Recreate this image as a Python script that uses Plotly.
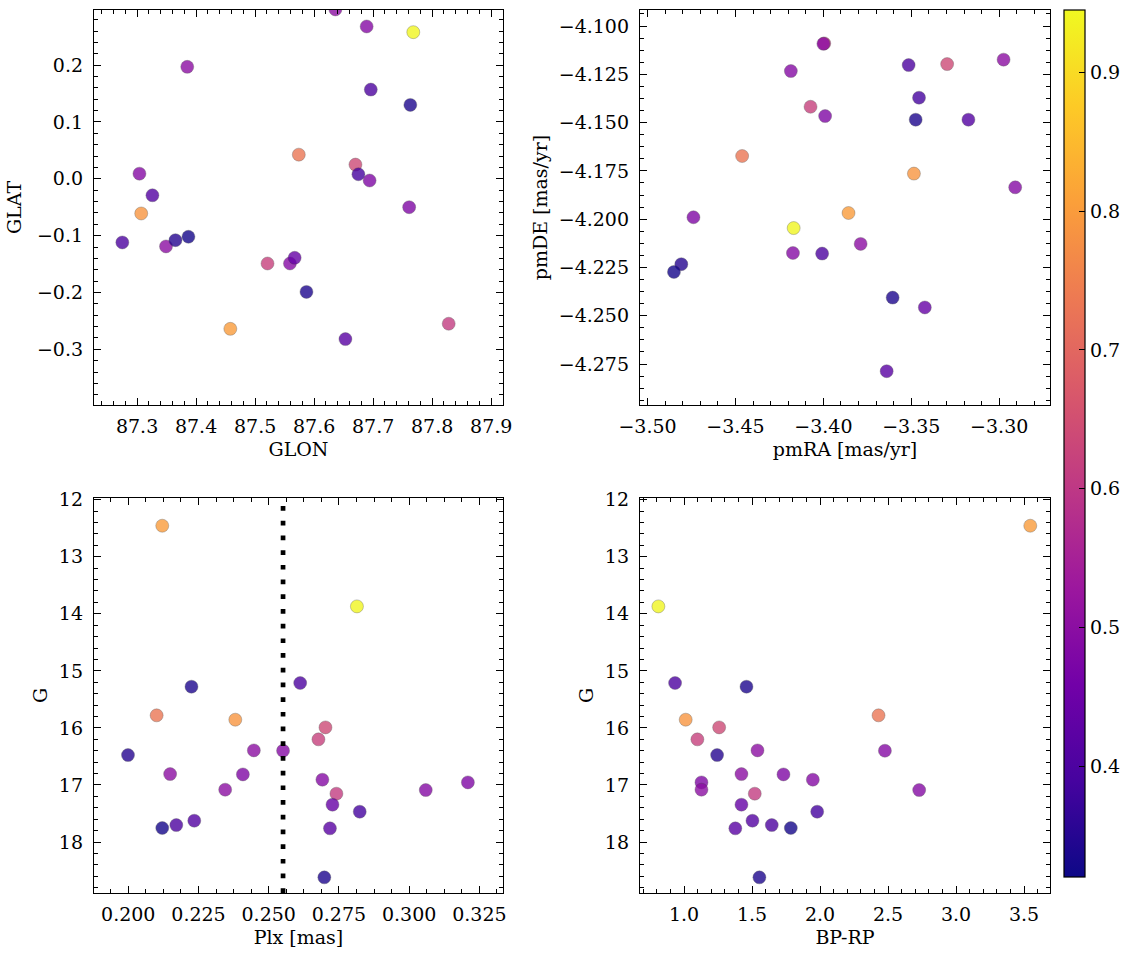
import plotly.graph_objects as go

# ---- data (one entry per star) ----
prob  = [0.94, 0.80, 0.79, 0.73, 0.64, 0.62, 0.61,
         0.50, 0.49, 0.50, 0.48, 0.49, 0.48, 0.50, 0.49, 0.44,
         0.40, 0.39, 0.41, 0.40, 0.42,
         0.34, 0.35, 0.33, 0.34]
glon  = [87.768, 87.458, 87.307, 87.574, 87.670, 87.521, 87.828,
         87.636, 87.689, 87.385, 87.694, 87.304, 87.761, 87.349, 87.559, 87.567,
         87.696, 87.675, 87.326, 87.275, 87.653,
         87.763, 87.365, 87.387, 87.587]
glat  = [0.258, -0.264, -0.061, 0.0425, 0.025, -0.149, -0.255,
         0.298, 0.268, 0.197, -0.003, 0.009, -0.050, -0.119, -0.149, -0.139,
         0.157, 0.008, -0.029, -0.112, -0.282,
         0.130, -0.108, -0.102, -0.199]
pmra  = [-3.4169, -3.3857, -3.3485, -3.4462, -3.3296, -3.4073, -3.3995,
         -3.4000, -3.4185, -3.2975, -3.3990, -3.2909, -3.4739, -3.3788, -3.4173, -3.3423,
         -3.3515, -3.3456, -3.3175, -3.4007, -3.3640,
         -3.3475, -3.4808, -3.4850, -3.3606]
pmde  = [-4.2046, -4.1968, -4.1764, -4.1673, -4.1197, -4.1418, -4.1090,
         -4.1092, -4.1233, -4.1174, -4.1466, -4.1835, -4.1990, -4.2128, -4.2175, -4.2457,
         -4.1202, -4.1371, -4.1485, -4.2178, -4.2787,
         -4.1485, -4.2233, -4.2273, -4.2406]
plx   = [0.2814, 0.2121, 0.2381, 0.2101, 0.2702, 0.2677, 0.2741,
         0.2447, 0.2551, 0.2149, 0.2408, 0.2691, 0.3209, 0.2345, 0.3059, 0.2727,
         0.2612, 0.2824, 0.2235, 0.2171, 0.2718,
         0.2225, 0.1999, 0.2121, 0.2698]
gmag  = [13.87, 12.456, 15.856, 15.78, 15.991, 16.201, 17.153,
         16.394, 16.400, 16.809, 16.815, 16.908, 16.955, 17.083, 17.089, 17.346,
         15.213, 17.469, 17.627, 17.703, 17.761,
         15.278, 16.476, 17.755, 18.620]
bp_rp = [0.811, 3.546, 1.012, 2.430, 1.258, 1.098, 1.520,
         1.540, 2.477, 1.422, 1.731, 1.947, 1.128, 1.128, 2.729, 1.422,
         0.934, 1.979, 1.503, 1.645, 1.377,
         1.459, 1.243, 1.785, 1.554]
plx_cut = 0.2551
prob_min, prob_max = 0.32, 0.945
cbar_ticks = [0.4, 0.5, 0.6, 0.7, 0.8, 0.9]

W, H = 1133, 960
FONT = "DejaVu Serif"
FS = 19

def px_x(a, b):
    return [a / W, b / W]

def px_y(top, bottom):
    return [1 - bottom / H, 1 - top / H]

marker = dict(size=13, color=prob, coloraxis="coloraxis", opacity=0.8,
              line=dict(color="rgba(60,60,60,0.6)", width=0.6))

fig = go.Figure()
pairs = [(glon, glat, "x", "y"), (pmra, pmde, "x2", "y2"),
         (plx, gmag, "x3", "y3"), (bp_rp, gmag, "x4", "y4")]
for xs, ys, xa, ya in pairs:
    fig.add_trace(go.Scatter(x=xs, y=ys, mode="markers", marker=marker,
                             xaxis=xa, yaxis=ya, showlegend=False))

def axis(title, rng, dtick, tick0, minor_dtick, fmt, domain, anchor, standoff, lstand):
    return dict(
        title=dict(text=title, font=dict(family=FONT, size=FS, color="black"), standoff=standoff),
        range=rng, dtick=dtick, tick0=tick0, tickformat=fmt, domain=domain, anchor=anchor,
        ticks="inside", ticklen=7, tickwidth=1.2, tickcolor="black",
        ticklabelstandoff=lstand,
        mirror="allticks", showline=True, linecolor="black", linewidth=1.3,
        showgrid=False, zeroline=False, automargin=False,
        tickfont=dict(family=FONT, size=FS, color="black"),
        minor=dict(dtick=minor_dtick, tick0=tick0, ticks="inside", ticklen=3.5,
                   tickwidth=1, tickcolor="black", showgrid=False),
    )

xl, xr = px_x(94, 503), px_x(640, 1050)
yt, yb = px_y(10, 405), px_y(498, 893)

fig.update_layout(
    width=W, height=H, autosize=False,
    margin=dict(l=0, r=0, t=0, b=0),
    paper_bgcolor="white", plot_bgcolor="white",
    font=dict(family=FONT, size=FS, color="black"),
    xaxis=axis("GLON", [87.227, 87.92], 0.1, 87.3, 0.02, ".1f", xl, "y", 6, 4),
    yaxis=axis("GLAT", [-0.398, 0.297], 0.1, 0.0, 0.02, ".1f", yt, "x", 10, 6),
    xaxis2=axis("pmRA [mas/yr]", [-3.5043, -3.2711], 0.05, -3.5, 0.01, ".2f", xr, "y2", 6, 4),
    yaxis2=axis("pmDE [mas/yr]", [-4.2962, -4.0917], 0.025, -4.1, 0.00625, ".3f", yt, "x2", 6, 6),
    xaxis3=axis("Plx [mas]", [0.1878, 0.3334], 0.025, 0.2, 0.00625, ".3f", xl, "y3", 6, 4),
    yaxis3=axis("G", [18.894, 11.97], 1, 12, 0.2, "d", yb, "x3", 6, 6),
    xaxis4=axis("BP-RP", [0.676, 3.691], 0.5, 1.0, 0.1, ".1f", xr, "y4", 6, 4),
    yaxis4=axis("G", [18.894, 11.97], 1, 12, 0.2, "d", yb, "x4", 6, 6),
    coloraxis=dict(
        colorscale="Plasma", cmin=prob_min, cmax=prob_max,
        colorbar=dict(
            x=1064 / W, xanchor="left", xpad=0, ypad=0,
            thickness=21, thicknessmode="pixels",
            len=867 / H, lenmode="fraction", y=1 - 443.5 / H, yanchor="middle",
            outlinewidth=1.2, outlinecolor="black",
            tickmode="array", tickvals=cbar_ticks,
            ticktext=[f"{v:.1f}" for v in cbar_ticks],
            ticks="inside", ticklen=6, tickwidth=1.2, tickcolor="black",
            tickfont=dict(family=FONT, size=FS, color="black"),
        ),
    ),
)

fig.add_shape(type="line", xref="x3", yref="y3 domain",
              x0=plx_cut, x1=plx_cut, y0=0, y1=1,
              line=dict(color="black", width=4.7, dash="4.7px,10px"))

fig.write_html("out.html")
